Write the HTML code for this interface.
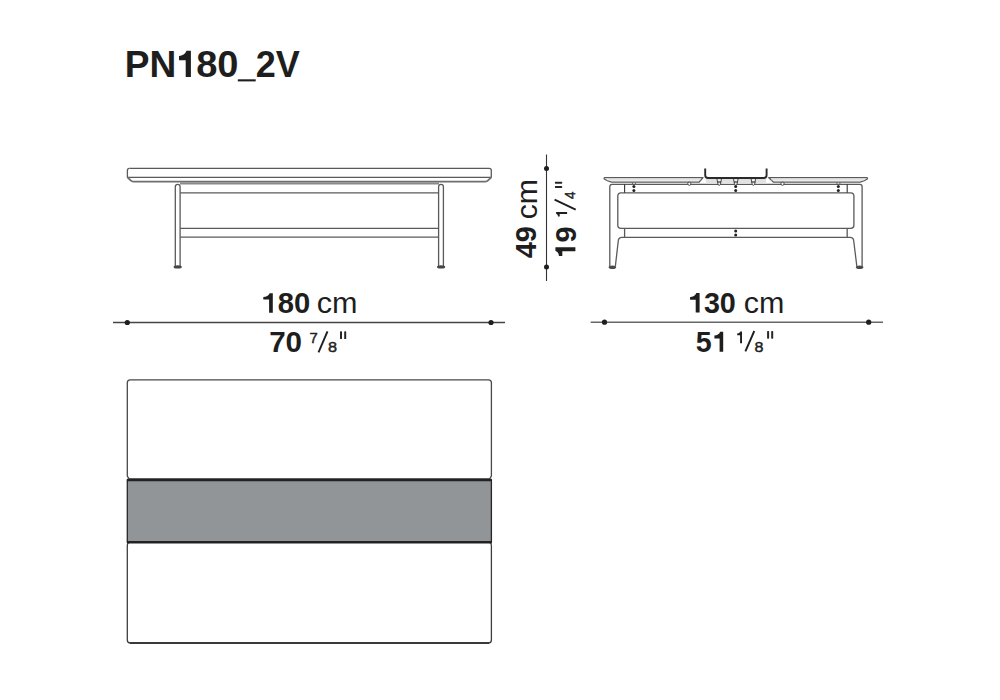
<!DOCTYPE html>
<html><head><meta charset="utf-8">
<style>
html,body{margin:0;padding:0;background:#fff;width:1000px;height:700px;overflow:hidden}
svg{position:absolute;left:0;top:0}
text{font-family:"Liberation Sans",sans-serif;fill:#1e1e1e}
</style></head><body>
<svg width="1000" height="700" viewBox="0 0 1000 700">

<!-- ===== side view ===== -->
<g fill="none" stroke="#5a5a5a" stroke-width="1.3">
  <path d="M129.4 168.4 H489.2 Q491.3 168.4 491.3 170.5 V177.5"/>
  <path d="M127.4 177.5 V170.5 Q127.4 168.4 129.4 168.4"/>
  <line x1="127.4" y1="177.4" x2="491.3" y2="177.4"/>
  <!-- stretchers -->
  <line x1="180.2" y1="192.9" x2="438.4" y2="192.9"/>
  <line x1="180.2" y1="228.3" x2="438.4" y2="228.3"/>
  <line x1="180.2" y1="237.1" x2="438.4" y2="237.1"/>
  <!-- legs -->
  <path d="M175.3 267 V186.7 Q175.3 184.3 177.7 184.3 Q180.1 184.3 180.1 186.7 V267"/>
  <path d="M438.6 267 V186.7 Q438.6 184.3 441 184.3 Q443.4 184.3 443.4 186.7 V267"/>
</g>
<path d="M127.4 177.4 L131.2 180.8 Q132.2 181.7 134 181.7 H484.7 Q486.5 181.7 487.5 180.8 L491.3 177.4" fill="none" stroke="#6e6e6e" stroke-width="1.8"/>
<rect x="180" y="182.4" width="259" height="2.1" fill="#8a8a8a"/>
<ellipse cx="177.7" cy="266.9" rx="4.1" ry="1.7" fill="#444"/>
<ellipse cx="441.1" cy="266.9" rx="4.1" ry="1.7" fill="#444"/>

<!-- ===== vertical dimension ===== -->
<line x1="546.5" y1="154.5" x2="546.5" y2="281" stroke="#333" stroke-width="1.1"/>
<circle cx="546.5" cy="168.5" r="2.5" fill="#1e1e1e"/>
<circle cx="546.5" cy="267" r="2.5" fill="#1e1e1e"/>
<line x1="575.7" y1="209.6" x2="554.6" y2="199.6" stroke="#1e1e1e" stroke-width="1.9"/>

<!-- ===== horizontal dims ===== -->
<line x1="113" y1="322.5" x2="505" y2="322.5" stroke="#444" stroke-width="1.3"/>
<circle cx="127.3" cy="322.5" r="2.6" fill="#1e1e1e"/>
<circle cx="491" cy="322.5" r="2.6" fill="#1e1e1e"/>

<line x1="590.7" y1="322.2" x2="883" y2="322.2" stroke="#666" stroke-width="1.6"/>
<circle cx="604.5" cy="322.2" r="2.6" fill="#1e1e1e"/>
<circle cx="868.7" cy="322.2" r="2.6" fill="#1e1e1e"/>


<!-- ===== front view ===== -->
<g fill="none" stroke="#5a5a5a" stroke-width="1.3" stroke-linejoin="round">
  <!-- frame outline + legs -->
  <path d="M615.4 266 L618.2 241.5 Q618.2 237.3 622 237.3 H850 Q853.8 237.3 853.8 241.5 L856.8 266"/>
  <path d="M609.8 266.3 V186.6 Q609.8 184.3 612.1 184.3 H859.8 Q862.1 184.3 862.1 186.6 V266.3"/>
  <!-- panel -->
  <path d="M621 192.8 H850.8 Q853.9 192.8 853.9 196 V225.2 Q853.9 228.3 850.8 228.3 H621 Q617.8 228.3 617.8 225.2 V196 Q617.8 192.8 621 192.8 Z"/>

  <line x1="624.6" y1="228.3" x2="624.6" y2="237.3"/>
  <line x1="847.2" y1="228.3" x2="847.2" y2="237.3"/>
  <!-- left slab -->
  <path d="M605 177.6 H703 L699 182.2 H611.5 Q607 181 604.3 179 Q603.6 177.6 605 177.6 Z"/>
  <!-- right slab -->
  <path d="M768.6 177.6 H866.6 Q868 177.6 867.3 179 Q864.6 181 860.1 182.2 H773.6 Z"/>
</g>
<g fill="none" stroke="#c4c4c4" stroke-width="0.8">
  <line x1="607.5" y1="179.9" x2="700.5" y2="179.9"/>
  <line x1="771" y1="179.9" x2="864.5" y2="179.9"/>
  <line x1="706" y1="179.6" x2="766" y2="179.6"/>
</g>
<g stroke="#333" stroke-width="1.1">
  <line x1="624.6" y1="184.3" x2="624.6" y2="192.8"/>
  <line x1="847.2" y1="184.3" x2="847.2" y2="192.8"/>
</g>
<!-- connectors under slab -->
<rect x="706" y="179.2" width="60" height="4.5" fill="#e2e2e2"/>
<g fill="none" stroke="#666" stroke-width="1">
  <path d="M632.4 182.4 V184.3 M635.4 182.4 V184.3"/>
  <path d="M836.9 182.4 V184.3 M839.9 182.4 V184.3"/>
</g>
<g fill="#f4f4f4" stroke="#3a3a3a" stroke-width="0.9">
  <path d="M716.9 178.6 L718 184.6 Q719.2 186 720.4 184.6 L721.5 178.6 Z"/>
  <path d="M733.5 178.6 L734.6 184.6 Q735.8 186 737 184.6 L738.1 178.6 Z"/>
  <path d="M751.1 178.6 L752.2 184.6 Q753.4 186 754.6 184.6 L755.7 178.6 Z"/>
  <circle cx="689.3" cy="183.7" r="1.6"/>
  <circle cx="782.5" cy="183.7" r="1.6"/>
</g>
<g fill="#3a3a3a">
  <rect x="717.3" y="181.4" width="3.8" height="1.2"/>
  <rect x="733.9" y="181.4" width="3.8" height="1.2"/>
  <rect x="751.5" y="181.4" width="3.8" height="1.2"/>
</g>
<!-- tray -->
<path d="M705.2 168.5 V175.3 Q705.2 178 708 178 H763.8 Q766.6 178 766.6 175.3 V168.5" fill="none" stroke="#2a2a2a" stroke-width="1.9"/>
<!-- dots -->
<g fill="#222">
  <circle cx="633.9" cy="186.6" r="1.5"/><circle cx="633.9" cy="190.5" r="1.5"/>
  <circle cx="735.7" cy="186.6" r="1.5"/><circle cx="735.7" cy="190.5" r="1.5"/>
  <circle cx="838.3" cy="186.6" r="1.5"/><circle cx="838.3" cy="190.5" r="1.5"/>
  <circle cx="735.7" cy="230.9" r="1.5"/><circle cx="735.7" cy="234.9" r="1.5"/>
</g>
<ellipse cx="612.4" cy="267.2" rx="3.8" ry="1.8" fill="#4a4a4a"/>
<ellipse cx="859.6" cy="267.2" rx="3.8" ry="1.8" fill="#4a4a4a"/>

<!-- fractions 70 7/8 -->
<line x1="318.5" y1="352.3" x2="327.5" y2="331.3" stroke="#1e1e1e" stroke-width="1.9"/>
<!-- 51 1/8 -->
<line x1="745.4" y1="351.4" x2="754.3" y2="331" stroke="#1e1e1e" stroke-width="1.9"/>


<!-- helvetica ones -->
<g fill="#1e1e1e">
  <path d="M190.90 50.80 V76.90 H185.70 V60.30 H179.00 V56.00 C182.35 56.00 185.40 54.18 186.48 50.80 Z"/>
  <rect x="237.8" y="79.3" width="17.9" height="2.1"/>
  <path d="M272.80 293.20 V312.70 H269.10 V299.60 H263.30 V296.90 C266.20 296.90 268.80 295.60 269.66 293.20 Z"/>
  <path d="M699.60 293.00 V312.40 H695.70 V299.70 H690.10 V297.10 C692.90 297.10 695.40 295.67 696.29 293.00 Z"/>
  <path d="M723.20 331.80 V351.70 H719.60 V338.40 H714.40 V335.60 C717.00 335.60 719.30 334.27 720.14 331.80 Z"/>
  <path d="M742.00 331.40 V343.30 H740.10 V335.30 H737.20 V333.40 C738.65 333.40 739.80 332.70 740.38 331.40 Z"/>
  <path d="M555.40 247.30 H575.40 V251.30 H562.30 V256.00 H558.90 C558.90 253.65 557.67 251.60 555.40 250.70 Z"/>
  <path d="M556.10 212.10 H567.10 V214.00 H559.70 V216.40 H558.00 C558.00 215.20 557.34 214.30 556.10 213.72 Z"/>
</g>
<!-- quote marks -->
<g fill="#262626">
  <rect x="340.0" y="331.3" width="2.0" height="7.8" rx="0.6"/>
  <rect x="344.2" y="331.3" width="2.0" height="7.8" rx="0.6"/>
  <rect x="767.1" y="331.1" width="2.0" height="7.6" rx="0.6"/>
  <rect x="771.2" y="331.1" width="2.0" height="7.6" rx="0.6"/>
  <rect x="554.9" y="181.7" width="7.3" height="2.0" ry="0.6"/>
  <rect x="554.9" y="185.9" width="7.3" height="2.0" ry="0.6"/>
</g>
<!-- ===== plan view ===== -->
<path d="M130.3 379.8 H488.4 Q491.4 379.8 491.4 382.8 V476 L489.5 479 H129.2 L127.3 476 V382.8 Q127.3 379.8 130.3 379.8 Z" fill="#fff" stroke="#484848" stroke-width="1.3"/>
<path d="M129.6 542.3 H489.1 Q491.4 542.3 491.4 546 V640 Q491.4 643 488.4 643 H130.3 Q127.3 643 127.3 640 V546 Q127.3 542.3 129.6 542.3 Z" fill="#fff" stroke="#3e3e3e" stroke-width="1.3"/>
<rect x="127.3" y="480" width="364.1" height="62.2" fill="#919598" stroke="#262626" stroke-width="1.3"/>
<line x1="127" y1="480.0" x2="491.7" y2="480.0" stroke="#222" stroke-width="2.6"/>
<line x1="127" y1="542.2" x2="491.7" y2="542.2" stroke="#222" stroke-width="2.6"/>
<line x1="130" y1="643" x2="489" y2="643" stroke="#3a3a3a" stroke-width="1.8"/>
<text x="124.79" y="76.72" font-size="37.00" font-weight="bold" textLength="51.50" lengthAdjust="spacingAndGlyphs">PN</text>
<text x="196.17" y="76.72" font-size="37.00" font-weight="bold" textLength="42.34" lengthAdjust="spacingAndGlyphs">80</text>
<text x="255.75" y="76.72" font-size="37.00" font-weight="bold" textLength="44.05" lengthAdjust="spacingAndGlyphs">2V</text>
<text x="277.70" y="313.25" font-size="29.50" font-weight="bold" textLength="32.50" lengthAdjust="spacingAndGlyphs">80</text>
<text x="316.83" y="313.43" font-size="29.50" textLength="40.74" lengthAdjust="spacingAndGlyphs">cm</text>
<text x="269.17" y="351.65" font-size="29.50" font-weight="bold" textLength="32.91" lengthAdjust="spacingAndGlyphs">70</text>
<text x="703.88" y="312.90" font-size="29.50" font-weight="bold" textLength="32.00" lengthAdjust="spacingAndGlyphs">30</text>
<text x="743.83" y="312.92" font-size="29.50" textLength="40.63" lengthAdjust="spacingAndGlyphs">cm</text>
<text x="695.78" y="351.91" font-size="29.50" font-weight="bold" textLength="15.94" lengthAdjust="spacingAndGlyphs">5</text>
<text x="309.45" y="343.12" font-size="15.40" stroke="#1e1e1e" stroke-width="0.45" textLength="8.28" lengthAdjust="spacingAndGlyphs">7</text>
<text x="327.98" y="351.68" font-size="15.40" stroke="#1e1e1e" stroke-width="0.45" textLength="9.07" lengthAdjust="spacingAndGlyphs">8</text>
<text x="754.59" y="351.65" font-size="15.40" stroke="#1e1e1e" stroke-width="0.45" textLength="8.96" lengthAdjust="spacingAndGlyphs">8</text>
<text transform="translate(536.26,258.35) rotate(-90)" x="0" y="0" font-size="29.50" font-weight="bold" textLength="32.36" lengthAdjust="spacingAndGlyphs">49</text>
<text transform="translate(537.30,219.35) rotate(-90)" x="0" y="0" font-size="29.50" textLength="40.41" lengthAdjust="spacingAndGlyphs">cm</text>
<text transform="translate(575.76,242.50) rotate(-90)" x="0" y="0" font-size="29.50" font-weight="bold" textLength="16.14" lengthAdjust="spacingAndGlyphs">9</text>
<text transform="translate(575.27,198.96) rotate(-90)" x="0" y="0" font-size="15.40" stroke="#1e1e1e" stroke-width="0.45" textLength="7.45" lengthAdjust="spacingAndGlyphs">4</text>
</svg>
</body></html>
